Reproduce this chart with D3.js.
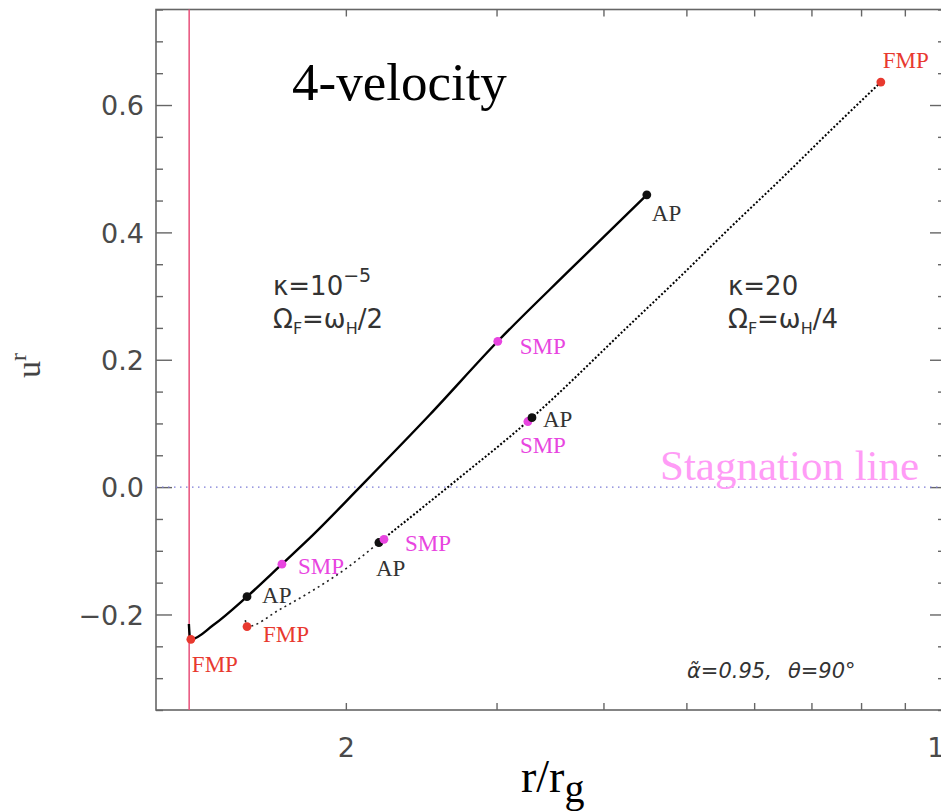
<!DOCTYPE html>
<html>
<head>
<meta charset="utf-8">
<script src="https://cdn.jsdelivr.net/npm/d3@7/dist/d3.min.js"></script>
<style>
  html, body { margin: 0; padding: 0; background: #fff; }
  svg { display: block; }
</style>
</head>
<body>
<svg id="chart" width="941" height="812"></svg>
<script>
// ---- data: radial 4-velocity u^r versus r/r_g ----
// kappa = 1e-5, Omega_F = omega_H / 2 (solid curve)
const solidR = [1.311, 1.314, 1.318, 1.399, 1.533, 1.684, 1.831, 2.077, 2.508, 3.010, 3.654, 4.495];
const solidU = [-0.215, -0.234, -0.239, -0.217, -0.172, -0.121, -0.075, 0.000, 0.114, 0.229, 0.341, 0.459];

// kappa = 20, Omega_F = omega_H / 4 (dotted curve), inner part up to the first AP
const dotInnerR = [1.526, 1.533, 1.675, 1.831, 2.001, 2.186];
const dotInnerU = [-0.209, -0.219, -0.192, -0.162, -0.128, -0.087];
// outer part from the first AP to the outer FMP
const dotOuterR = [2.186, 2.632, 3.300, 4.294, 4.913, 5.621, 6.430, 7.356, 8.437];
const dotOuterU = [-0.087, 0.000, 0.109, 0.255, 0.330, 0.407, 0.482, 0.559, 0.636];

// critical points on both curves
const pointNames = ["FMP", "AP", "SMP", "SMP", "AP", "FMP", "AP", "SMP", "SMP", "AP", "FMP"];
const pointR     = [1.318, 1.533, 1.684, 3.010, 4.495, 1.533, 2.186, 2.216, 3.264, 3.300, 8.437];
const pointU     = [-0.239, -0.172, -0.121, 0.229, 0.459, -0.219, -0.087, -0.082, 0.103, 0.109, 0.636];

// horizon radius for a = 0.95
const horizonR = 1.312;

// axis ticks
const yMajorTicks = [-0.2, 0.0, 0.2, 0.4, 0.6];
const yMinorTicks = [-0.35, -0.3, -0.25, -0.15, -0.1, -0.05, 0.05, 0.1, 0.15, 0.25, 0.3, 0.35, 0.45, 0.5, 0.55, 0.65, 0.7, 0.75];
const xTicks = [2, 3, 4, 5, 6, 7, 8, 9, 10];
const xTickLabels = [2, 10];

// ---- layout ----
const svg = d3.select("#chart");
const x = d3.scaleLog().domain([1.2, 10]).range([156, 944]);
const y = d3.scaleLinear().domain([-0.35, 0.75]).range([710, 9.5]);
const plotLeft = 156, plotRight = 944, plotTop = 9.5, plotBottom = 710;

const markColor = { FMP: "#e8392f", AP: "#111", SMP: "#e845e0" };
const labelColor = { FMP: "#e8392f", AP: "#333", SMP: "#e845e0" };
// label offsets (px) from each point, in the same order as the point arrays
const labelOffsets = [[1, 33], [15, 6], [16, 10], [22, 13], [5, 26], [16, 15], [-3, 33], [21, 12], [-8, 31], [11, 9], [2, -14]];

const axisColor = "#666";
const tickFont = "'DejaVu Sans', sans-serif";

function styleAxis(g) {
  g.select(".domain").remove();
  g.selectAll(".tick line").attr("stroke", axisColor).attr("stroke-width", 1.4);
  g.selectAll(".tick text").attr("fill", "#4a4a4a").style("font-family", tickFont).style("font-size", "27px");
}

// left axis (ticks point inward)
svg.append("g").attr("transform", `translate(${plotLeft},0)`)
  .call(d3.axisLeft(y).tickValues(yMajorTicks).tickSizeInner(-16).tickSizeOuter(0).tickPadding(12)
    .tickFormat(d3.format(".1f")))
  .call(styleAxis)
  .selectAll(".tick text").attr("dy", "0.36em");
svg.append("g").attr("transform", `translate(${plotLeft},0)`)
  .call(d3.axisLeft(y).tickValues(yMinorTicks).tickSizeInner(-7).tickSizeOuter(0).tickFormat(""))
  .call(styleAxis);

// right axis
svg.append("g").attr("transform", `translate(${plotRight},0)`)
  .call(d3.axisRight(y).tickValues(yMajorTicks).tickSizeInner(-14).tickSizeOuter(0).tickFormat(""))
  .call(styleAxis);
svg.append("g").attr("transform", `translate(${plotRight},0)`)
  .call(d3.axisRight(y).tickValues(yMinorTicks).tickSizeInner(-6).tickSizeOuter(0).tickFormat(""))
  .call(styleAxis);

// bottom axis
svg.append("g").attr("transform", `translate(0,${plotBottom})`)
  .call(d3.axisBottom(x).tickValues(xTicks).tickSizeInner(-7).tickSizeOuter(0).tickPadding(28)
    .tickFormat(d => xTickLabels.includes(d) ? d3.format("d")(d) : ""))
  .call(styleAxis);

// top axis
svg.append("g").attr("transform", `translate(0,${plotTop})`)
  .call(d3.axisTop(x).tickValues(xTicks).tickSizeInner(-7).tickSizeOuter(0).tickFormat(""))
  .call(styleAxis);

// frame
svg.append("rect")
  .attr("x", plotLeft).attr("y", plotTop)
  .attr("width", plotRight - plotLeft).attr("height", plotBottom - plotTop)
  .attr("fill", "none").attr("stroke", axisColor).attr("stroke-width", 1.6);

// horizon
svg.append("line")
  .attr("x1", x(horizonR)).attr("x2", x(horizonR))
  .attr("y1", plotTop).attr("y2", plotBottom)
  .attr("stroke", "#e8507a").attr("stroke-width", 1.5);

// stagnation line u^r = 0
svg.append("line")
  .attr("x1", plotLeft).attr("x2", plotRight)
  .attr("y1", y(0)).attr("y2", y(0))
  .attr("stroke", "#7b7bd6").attr("stroke-width", 1.4)
  .attr("stroke-dasharray", "1.5,4.5");

// curves
const line = d3.line().x(d => x(d[0])).y(d => y(d[1])).curve(d3.curveMonotoneX);
const zip = (a, b) => a.map((v, i) => [v, b[i]]);

svg.append("path").datum(zip(solidR, solidU))
  .attr("d", line).attr("fill", "none")
  .attr("stroke", "#000").attr("stroke-width", 2.4);

svg.append("path").datum(zip(dotInnerR, dotInnerU))
  .attr("d", line).attr("fill", "none")
  .attr("stroke", "#222").attr("stroke-width", 1.6)
  .attr("stroke-dasharray", "2,3.5");

svg.append("path").datum(zip(dotOuterR, dotOuterU))
  .attr("d", line).attr("fill", "none")
  .attr("stroke", "#000").attr("stroke-width", 2)
  .attr("stroke-dasharray", "2,2");

// critical points and their labels
const pts = pointNames.map((n, i) => ({ name: n, r: pointR[i], u: pointU[i], off: labelOffsets[i] }));
svg.append("g").selectAll("circle").data(pts).join("circle")
  .attr("cx", d => x(d.r)).attr("cy", d => y(d.u)).attr("r", 4.4)
  .attr("fill", d => markColor[d.name]);
svg.append("g").selectAll("text").data(pts).join("text")
  .attr("x", d => x(d.r) + d.off[0]).attr("y", d => y(d.u) + d.off[1])
  .attr("fill", d => labelColor[d.name])
  .style("font-family", "'Liberation Serif', serif").style("font-size", "23px")
  .text(d => d.name);

// title
svg.append("text").attr("x", 292).attr("y", 100)
  .style("font-family", "'Liberation Serif', 'Times New Roman', serif").style("font-size", "53px")
  .attr("fill", "#000").text("4-velocity");

// stagnation line label
svg.append("text").attr("x", 660).attr("y", 480)
  .style("font-family", "'Liberation Serif', 'Times New Roman', serif").style("font-size", "43px")
  .attr("fill", "#ff9cf6").text("Stagnation line");

// parameter labels
const paramFont = "'DejaVu Sans', sans-serif";
function paramBlock(px, kappaParts, denom) {
  const t1 = svg.append("text").attr("x", px).attr("y", 295)
    .style("font-family", paramFont).style("font-size", "26px").attr("fill", "#333");
  t1.append("tspan").text("κ=" + kappaParts[0]);
  if (kappaParts[1]) {
    t1.append("tspan").attr("dy", -13).style("font-size", "19px").text(kappaParts[1]);
  }
  const t2 = svg.append("text").attr("x", px).attr("y", 328)
    .style("font-family", paramFont).style("font-size", "26px").attr("fill", "#333");
  t2.append("tspan").text("Ω");
  t2.append("tspan").attr("dy", 6).style("font-size", "16px").text("F");
  t2.append("tspan").attr("dy", -6).text("=ω");
  t2.append("tspan").attr("dy", 6).style("font-size", "16px").text("H");
  t2.append("tspan").attr("dy", -6).text("/" + denom);
}
paramBlock(273, ["10", "−5"], "2");
paramBlock(728, ["20", null], "4");

// spin and inclination note
const note = svg.append("text").attr("x", 687).attr("y", 678)
  .style("font-family", paramFont).style("font-size", "21px").style("font-style", "italic")
  .attr("fill", "#333");
note.append("tspan").text("α\u0303=0.95,");
note.append("tspan").attr("dx", 16).text("θ=90°");

// axis titles
const yt = svg.append("text")
  .attr("transform", "translate(40,378) rotate(-90)")
  .style("font-family", "'Liberation Serif', serif").style("font-size", "34px").attr("fill", "#444");
yt.append("tspan").text("u");
yt.append("tspan").attr("dy", -14).style("font-size", "24px").text("r");

const xt = svg.append("text").attr("x", 521).attr("y", 792)
  .style("font-family", "'Liberation Serif', serif").style("font-size", "46px").attr("fill", "#000");
xt.append("tspan").text("r/r");
xt.append("tspan").attr("dy", 10).style("font-size", "40px").text("g");
</script>
</body>
</html>
